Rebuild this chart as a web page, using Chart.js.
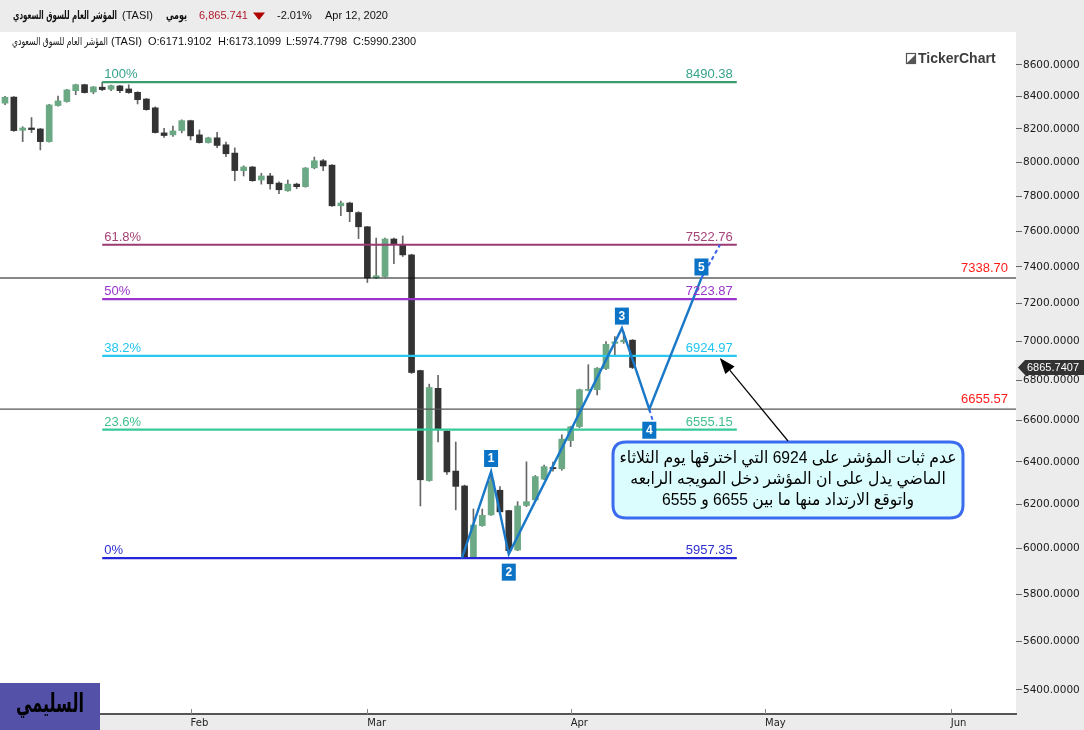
<!DOCTYPE html>
<html><head><meta charset="utf-8">
<script src="https://cdn.jsdelivr.net/npm/chart.js@4.4.1/dist/chart.umd.min.js"></script>
<style>html,body{margin:0;padding:0;background:#ececec;overflow:hidden}canvas{display:block}</style>
</head><body>
<canvas id="c" width="1084" height="730"></canvas>
<script>
// ---- data ----
const dates = ['2020-01-02','2020-01-05','2020-01-06','2020-01-07','2020-01-08','2020-01-09','2020-01-12','2020-01-13','2020-01-14','2020-01-15','2020-01-16','2020-01-19','2020-01-20','2020-01-21','2020-01-22','2020-01-23','2020-01-26','2020-01-27','2020-01-28','2020-01-29','2020-01-30',
'2020-02-02','2020-02-03','2020-02-04','2020-02-05','2020-02-06','2020-02-09','2020-02-10','2020-02-11','2020-02-12','2020-02-13','2020-02-16','2020-02-17','2020-02-18','2020-02-19','2020-02-20','2020-02-23','2020-02-24','2020-02-25','2020-02-26','2020-02-27',
'2020-03-01','2020-03-02','2020-03-03','2020-03-04','2020-03-05','2020-03-08','2020-03-09','2020-03-10','2020-03-11','2020-03-12','2020-03-15','2020-03-16','2020-03-17','2020-03-18','2020-03-19','2020-03-22','2020-03-23','2020-03-24','2020-03-25','2020-03-26','2020-03-29','2020-03-30','2020-03-31',
'2020-04-01','2020-04-02','2020-04-05','2020-04-06','2020-04-07','2020-04-08','2020-04-09','2020-04-12'];
const open = [8359,8397,8192,8206,8200,8123,8344,8369,8437,8475,
8429,8459,8446,8467,8448,8427,8385,8330,8176,8164,
8190,8251,8164,8117,8146,8104,8054,7949,7971,7894,
7918,7876,7831,7870,7855,7966,8008,7982,7744,7760,
7705,7624,7339,7347,7555,7525,7466,6850,6311,6760,
6548,6356,6286,5960,6103,6152,6266,6171.9102,5993,6195,
6221,6318,6373,6367,6502,6570,6750,6753,6860,6990,
6998,7006.6];
const high = [8402,8400,8214,8270,8203,8352,8404,8445,8478,8478,
8463,8490.38,8472,8470,8474,8430,8388,8336,8204,8218,
8256,8254,8194,8150,8180,8121,8085,7978,7975,7934,
7934,7884,7894,7876,7968,8030,8016,7985,7771,7765,
7710,7626,7560,7560,7560,7572,7470,6852,6781,6826,
6550,6495,6290,6179,6179,6354,6283,6173.1099,6213,6400,
6335,6385,6399,6530,6572,6756,6880,6865,6999,7025,
7050,7010];
const low = [8350,8185,8123,8178,8073,8120,8340,8365,8412,8422,
8418,8437,8437,8425,8420,8354,8315,8175,8148,8155,
8176,8133,8114,8114,8086,8032,7890,7918,7887,7870,
7841,7814,7828,7843,7852,7960,7949,7740,7687,7653,
7557,7314,7335,7345,7417,7457,6835,6193,6308,6496,
6340,6175,5957.35,5958,6100,6150,6160,5974.7798,5990,6190,
6215,6315,6355,6360,6473,6565,6747,6727,6855,6925,
6990,6860];
const close = [8396,8190,8206,8196,8123,8348,8373,8442,8475,8425,
8461,8444,8469,8437,8425,8381,8319,8178,8160,8188,
8251,8158,8117,8146,8100,8050,7950,7971,7890,7918,
7872,7837,7870,7855,7965,8008,7977,7744,7760,7710,
7624,7338.7,7351,7555,7525,7466,6840,6315,6764,6558,
6352,6284,5960,6106,6150,6310,6166,5990.23,6193,6213,
6330,6377,6367,6509,6569,6753,6755,6862,6985,6998,
7006.6,6865.7407];
const monthLabels = ['Feb','Mar','Apr','May','Jun'];
const monthIndex = [21,41,64,86,107];
const yTicks = [5400,5600,5800,6000,6200,6400,6600,6800,7000,7200,7400,7600,7800,8000,8200,8400,8600];
const fibNames = ['100%','61.8%','50%','38.2%','23.6%','0%'];
const fibValues = [8490.38,7522.76,7223.87,6924.97,6555.15,5957.35];
const fibFrom = 11, fibTo = 82.8;
const levelValues = [7338.70, 6655.57];
const waveX = [51.7,55,57,69.8,72.9,78.8];
const waveY = [5957.35,6354,5974.78,7070,6655.57,7338.70];
const waveNames = ['1','2','3','4','5'];
const wave4Target = [73.6, 6555.15];
const wave5Target = [80.9, 7522.76];
const noteLines = ['عدم ثبات المؤشر على 6924 التي اخترقها يوم الثلاثاء','الماضي يدل على ان المؤشر دخل المويجه الرابعه','واتوقع الارتداد منها ما بين 6655 و 6555'];

// ---- styles ----
const UP='#6aa984', DOWN='#333333';
const fibLineColors=['#3a9b6c','#9b3b72','#9a35cc','#29c6ee','#36c99a','#2525d8'];
const fibTextColors=['#35a38c','#a54276','#9a35cc','#22c5f0','#3fbf8f','#3030d0'];
const levelColors=['#111111','#555555'];
const WAVE='#1a78c8';
const LS='"Liberation Sans", Arial, sans-serif';
const DV='"DejaVu Sans", sans-serif';

const N = dates.length;
const ds = [];
ds.push({type:'bar', data: dates.map((d,i)=>({x:i,y:[low[i],high[i]]})), backgroundColor:'#666666', barThickness:1, grouped:false, order:5});
ds.push({type:'bar', data: dates.map((d,i)=>({x:i,y:[open[i],close[i]]})), backgroundColor: dates.map((d,i)=> close[i]>=open[i]?UP:DOWN), barThickness:6, minBarLength:1, grouped:false, order:4});
fibValues.forEach((v,k)=>{
  ds.push({type:'line', data:[{x:fibFrom,y:v},{x:fibTo,y:v}], borderColor:fibLineColors[k], borderWidth:2.2, pointRadius:0, order:2});
});
levelValues.forEach((v,k)=>{
  ds.push({type:'line', data:[{x:-1,y:v},{x:200,y:v}], borderColor:levelColors[k], borderWidth:1.2, pointRadius:0, order:3});
});
ds.push({type:'line', data: waveX.map((x,i)=>({x, y:waveY[i]})), borderColor:WAVE, borderWidth:2.4, pointRadius:0, tension:0, order:1});
ds.push({type:'line', data:[{x:waveX[4],y:waveY[4]},{x:wave4Target[0],y:wave4Target[1]}], borderColor:'#3a63f0', borderWidth:2, borderDash:[4,3], pointRadius:0, order:1});
ds.push({type:'line', data:[{x:waveX[5],y:waveY[5]},{x:wave5Target[0],y:wave5Target[1]}], borderColor:'#3a63f0', borderWidth:2, borderDash:[4,3], pointRadius:0, order:1});

// draw text squeezed horizontally to a target width (keeps glyph height)
function fitText(ctx, text, font, x, y, target, align){
  ctx.save();
  ctx.font = font; ctx.textAlign='left';
  const w = ctx.measureText(text).width || 1;
  const sx = Math.min(1.3, target / w);
  let x0 = x; if (align==='right') x0 = x - target; else if (align==='center') x0 = x - target/2;
  ctx.translate(x0, y); ctx.scale(sx, 1);
  ctx.fillText(text, 0, 0);
  ctx.restore();
}
function rrect(ctx,x,y,w,h,r){ctx.beginPath();ctx.moveTo(x+r,y);ctx.lineTo(x+w-r,y);ctx.quadraticCurveTo(x+w,y,x+w,y+r);ctx.lineTo(x+w,y+h-r);ctx.quadraticCurveTo(x+w,y+h,x+w-r,y+h);ctx.lineTo(x+r,y+h);ctx.quadraticCurveTo(x,y+h,x,y+h-r);ctx.lineTo(x,y+r);ctx.quadraticCurveTo(x,y,x+r,y);ctx.closePath();}

const deco = {
  id:'deco',
  beforeDraw(chart){
    const {ctx, chartArea:a} = chart;
    ctx.save();
    ctx.fillStyle='#ececec'; ctx.fillRect(0,0,chart.width,chart.height);
    ctx.fillStyle='#ffffff'; ctx.fillRect(a.left,a.top,a.right-a.left,a.bottom-a.top);
    ctx.restore();
  },
  afterDraw(chart){
    const {ctx, chartArea:a, scales:{x:xs,y:ys}} = chart;
    ctx.save();
    ctx.textBaseline='middle';
    // header line 1
    ctx.fillStyle='#111';
    fitText(ctx,'المؤشر العام للسوق السعودي',`bold 12px ${DV}`,117,16,104,'right');
    fitText(ctx,'يومي',`bold 12px ${DV}`,187,16,21,'right');
    ctx.textAlign='left';
    ctx.font=`11px ${LS}`;
    ctx.fillText('(TASI)',122,16);
    ctx.fillStyle='#b01c2e'; ctx.fillText('6,865.741',199,16);
    ctx.fillStyle='#b00000'; ctx.beginPath(); ctx.moveTo(253,12.5); ctx.lineTo(265,12.5); ctx.lineTo(259,20); ctx.closePath(); ctx.fill();
    ctx.fillStyle='#111'; ctx.fillText('-2.01%',277,16); ctx.fillText('Apr 12, 2020',325,16);
    // header line 2
    fitText(ctx,'المؤشر العام للسوق السعودي',`11px ${DV}`,108,42,96,'right');
    ctx.textAlign='left';
    ctx.font=`11px ${LS}`;
    ctx.fillText('(TASI)',111,42);
    const idx = 57;
    ctx.fillText('O:'+open[idx].toFixed(4),148,42);
    ctx.fillText('H:'+high[idx].toFixed(4),218,42);
    ctx.fillText('L:'+low[idx].toFixed(4),286,42);
    ctx.fillText('C:'+close[idx].toFixed(4),353,42);
    // logo
    ctx.strokeStyle='#555'; ctx.lineWidth=1.2; ctx.strokeRect(906.5,53.5,9,10);
    ctx.fillStyle='#555'; ctx.beginPath(); ctx.moveTo(907,63); ctx.lineTo(915,55); ctx.lineTo(915,63); ctx.closePath(); ctx.fill();
    ctx.fillStyle='#3d3d3d'; ctx.font=`bold 14px ${LS}`; ctx.fillText('TickerChart',918,59);
    // fib labels
    ctx.textBaseline='alphabetic';
    ctx.font=`13px ${LS}`;
    fibValues.forEach((v,k)=>{
      const py = ys.getPixelForValue(v);
      ctx.fillStyle=fibTextColors[k];
      ctx.textAlign='left'; ctx.fillText(fibNames[k], xs.getPixelForValue(fibFrom)+2, py-4);
      ctx.textAlign='right'; ctx.fillText(v.toFixed(2), xs.getPixelForValue(fibTo)-4, py-4);
    });
    // level labels
    ctx.fillStyle='#ff1a1a'; ctx.textAlign='right';
    levelValues.forEach(v=>{ ctx.fillText(v.toFixed(2), a.right-8, ys.getPixelForValue(v)-6); });
    // wave boxes
    const offs=[-13,18,-12,21,-11];
    ctx.textAlign='center'; ctx.textBaseline='middle'; ctx.font=`bold 12px ${LS}`;
    waveNames.forEach((n,k)=>{
      const px = xs.getPixelForValue(waveX[k+1]); const py = ys.getPixelForValue(waveY[k+1])+offs[k];
      ctx.fillStyle='#0a73c6'; ctx.fillRect(px-7,py-8.5,14,17);
      ctx.fillStyle='#fff'; ctx.fillText(n,px,py+0.5);
    });
    // callout
    const bx=613, by=442, bw=350, bh=76;
    rrect(ctx,bx,by,bw,bh,13); ctx.fillStyle='#dbfdfd'; ctx.fill(); ctx.strokeStyle='#3b6cf0'; ctx.lineWidth=3; ctx.stroke();
    ctx.fillStyle='#000'; ctx.direction='rtl'; ctx.textAlign='center'; ctx.textBaseline='middle';
    const fam=`"Liberation Sans", "DejaVu Sans", sans-serif`;
    ctx.font=`17px ${fam}`;
    const w0 = ctx.measureText(noteLines[0]).width;
    const sx = 337/w0;
    const cy=[458,479,500];
    noteLines.forEach((t,i)=>{ ctx.save(); ctx.translate(788,cy[i]); ctx.scale(sx,1); ctx.fillText(t,0,0); ctx.restore(); });
    ctx.direction='ltr';
    // arrow to 38.2% level end
    const tx = xs.getPixelForValue(fibTo)-17, ty = ys.getPixelForValue(fibValues[3])+2;
    const sx0=788, sy0=441;
    const dx=tx-sx0, dy=ty-sy0, L=Math.hypot(dx,dy), ux=dx/L, uy=dy/L;
    const hb=16, hw=6;
    ctx.strokeStyle='#000'; ctx.lineWidth=1.2; ctx.beginPath(); ctx.moveTo(sx0,sy0); ctx.lineTo(tx-ux*hb, ty-uy*hb); ctx.stroke();
    ctx.fillStyle='#000'; ctx.beginPath(); ctx.moveTo(tx,ty);
    ctx.lineTo(tx-ux*hb-uy*hw, ty-uy*hb+ux*hw); ctx.lineTo(tx-ux*hb+uy*hw, ty-uy*hb-ux*hw); ctx.closePath(); ctx.fill();
    // price tag
    const tyy = ys.getPixelForValue(close[N-1]);
    ctx.fillStyle='#333'; ctx.beginPath(); ctx.moveTo(1018,tyy); ctx.lineTo(1025,tyy-7.5); ctx.lineTo(1084,tyy-7.5); ctx.lineTo(1084,tyy+7.5); ctx.lineTo(1025,tyy+7.5); ctx.closePath(); ctx.fill();
    ctx.fillStyle='#fff'; ctx.textAlign='left'; ctx.textBaseline='middle'; ctx.font=`11px ${LS}`;
    ctx.fillText(close[N-1].toFixed(4),1027,tyy+0.5);
    // x tick marks (upward)
    ctx.strokeStyle='#888'; ctx.lineWidth=1;
    monthIndex.forEach(i=>{ const px=Math.round(xs.getPixelForValue(i))+0.5; ctx.beginPath(); ctx.moveTo(px,a.bottom-5); ctx.lineTo(px,a.bottom); ctx.stroke(); });
    // signature box
    ctx.fillStyle='#5451a9'; ctx.fillRect(0,683,100,47);
    ctx.fillStyle='#000'; ctx.textBaseline='middle';
    fitText(ctx,'السليمي',`bold 26px ${DV}`,50,705,68,'center');
    ctx.restore();
  }
};

Chart.defaults.font.family = '"DejaVu Sans", sans-serif';
new Chart(document.getElementById('c'), {
  type:'bar',
  data:{ datasets: ds },
  options:{
    responsive:false, animation:false, devicePixelRatio:1,
    layout:{padding:{top:32,left:0,right:0,bottom:0}, autoPadding:false},
    plugins:{legend:{display:false}, tooltip:{enabled:false}},
    scales:{
      x:{ type:'linear', min:-0.566, max:114.39, bounds:'data', offset:false,
        afterBuildTicks:s=>{ s.ticks = monthIndex.map(v=>({value:v})); },
        afterFit:s=>{ s.height=16; },
        grid:{display:false, drawTicks:false, offset:false},
        border:{display:true, color:'#555', width:2},
        ticks:{ autoSkip:false, maxRotation:0, align:'start', padding:3, color:'#222', font:{size:10, family:'"DejaVu Sans", sans-serif'},
          callback:(v)=>{ const k=monthIndex.indexOf(v); return k>=0?monthLabels[k]:''; } } },
      y:{ type:'logarithmic', position:'right', min:5304.3, max:8813.9, bounds:'data',
        afterBuildTicks:s=>{ s.ticks = yTicks.map(v=>({value:v})); },
        afterFit:s=>{ s.width=68; },
        grid:{drawOnChartArea:false, drawTicks:true, tickLength:6, color:'#666'},
        border:{display:false},
        ticks:{ padding:1, color:'#1a1a1a', font:{size:10.5, family:'"DejaVu Sans", sans-serif'}, callback:(v)=>Number(v).toFixed(4) } }
    }
  },
  plugins:[deco]
});
</script>
</body></html>
